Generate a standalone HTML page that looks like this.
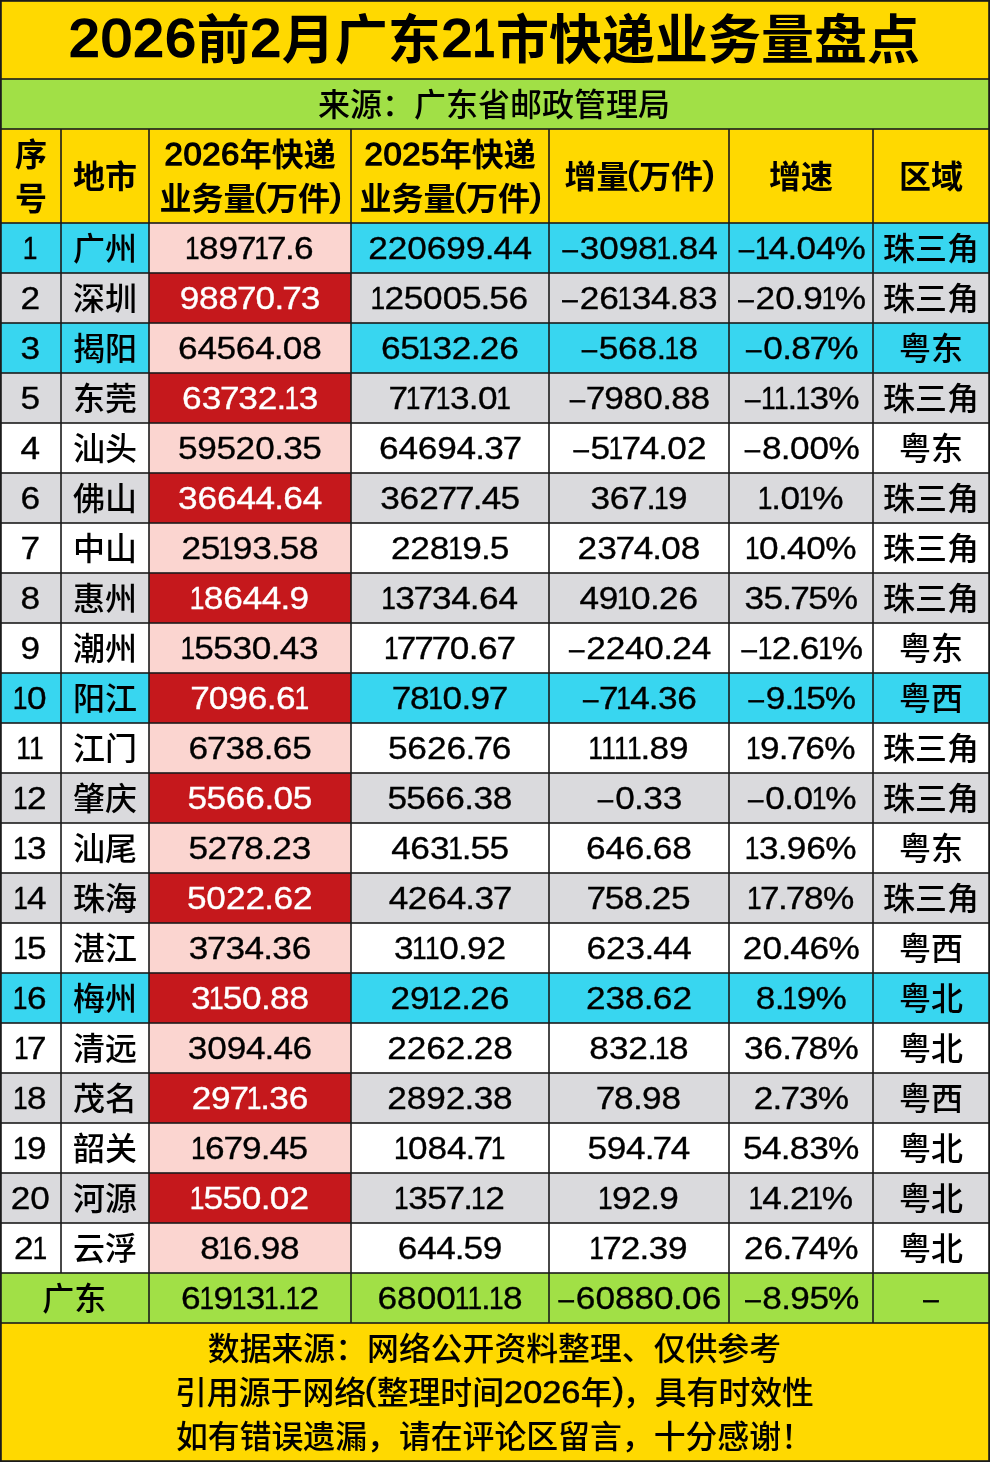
<!DOCTYPE html>
<html lang="zh-CN"><head><meta charset="utf-8"><title>2026前2月广东21市快递业务量盘点</title>
<style>
html,body{margin:0;padding:0;background:#fff}
svg{display:block;font-family:"Liberation Sans", "Noto Sans CJK SC", sans-serif;fill:#000}
text{white-space:pre}
</style></head><body>
<svg width="990" height="1462" viewBox="0 0 990 1462">
<rect x="0" y="0" width="990" height="1462" fill="#1b1b1b"/>
<rect x="1.8" y="1.8" width="986.4" height="76.4" fill="#FFD900"/>
<rect x="1.8" y="79.8" width="986.4" height="48.4" fill="#A1E046"/>
<rect x="1.8" y="129.8" width="58.4" height="92.4" fill="#FFD900"/>
<rect x="61.8" y="129.8" width="86.4" height="92.4" fill="#FFD900"/>
<rect x="149.8" y="129.8" width="200.4" height="92.4" fill="#FFD900"/>
<rect x="351.8" y="129.8" width="196.4" height="92.4" fill="#FFD900"/>
<rect x="549.8" y="129.8" width="178.4" height="92.4" fill="#FFD900"/>
<rect x="729.8" y="129.8" width="142.4" height="92.4" fill="#FFD900"/>
<rect x="873.8" y="129.8" width="114.4" height="92.4" fill="#FFD900"/>
<rect x="1.8" y="223.8" width="58.4" height="48.4" fill="#38D6F0"/>
<rect x="61.8" y="223.8" width="86.4" height="48.4" fill="#38D6F0"/>
<rect x="149.8" y="223.8" width="200.4" height="48.4" fill="#FBD5D0"/>
<rect x="351.8" y="223.8" width="196.4" height="48.4" fill="#38D6F0"/>
<rect x="549.8" y="223.8" width="178.4" height="48.4" fill="#38D6F0"/>
<rect x="729.8" y="223.8" width="142.4" height="48.4" fill="#38D6F0"/>
<rect x="873.8" y="223.8" width="114.4" height="48.4" fill="#38D6F0"/>
<rect x="1.8" y="273.8" width="58.4" height="48.4" fill="#DADADD"/>
<rect x="61.8" y="273.8" width="86.4" height="48.4" fill="#DADADD"/>
<rect x="149.8" y="273.8" width="200.4" height="48.4" fill="#C5181C"/>
<rect x="351.8" y="273.8" width="196.4" height="48.4" fill="#DADADD"/>
<rect x="549.8" y="273.8" width="178.4" height="48.4" fill="#DADADD"/>
<rect x="729.8" y="273.8" width="142.4" height="48.4" fill="#DADADD"/>
<rect x="873.8" y="273.8" width="114.4" height="48.4" fill="#DADADD"/>
<rect x="1.8" y="323.8" width="58.4" height="48.4" fill="#38D6F0"/>
<rect x="61.8" y="323.8" width="86.4" height="48.4" fill="#38D6F0"/>
<rect x="149.8" y="323.8" width="200.4" height="48.4" fill="#FBD5D0"/>
<rect x="351.8" y="323.8" width="196.4" height="48.4" fill="#38D6F0"/>
<rect x="549.8" y="323.8" width="178.4" height="48.4" fill="#38D6F0"/>
<rect x="729.8" y="323.8" width="142.4" height="48.4" fill="#38D6F0"/>
<rect x="873.8" y="323.8" width="114.4" height="48.4" fill="#38D6F0"/>
<rect x="1.8" y="373.8" width="58.4" height="48.4" fill="#DADADD"/>
<rect x="61.8" y="373.8" width="86.4" height="48.4" fill="#DADADD"/>
<rect x="149.8" y="373.8" width="200.4" height="48.4" fill="#C5181C"/>
<rect x="351.8" y="373.8" width="196.4" height="48.4" fill="#DADADD"/>
<rect x="549.8" y="373.8" width="178.4" height="48.4" fill="#DADADD"/>
<rect x="729.8" y="373.8" width="142.4" height="48.4" fill="#DADADD"/>
<rect x="873.8" y="373.8" width="114.4" height="48.4" fill="#DADADD"/>
<rect x="1.8" y="423.8" width="58.4" height="48.4" fill="#FFFFFF"/>
<rect x="61.8" y="423.8" width="86.4" height="48.4" fill="#FFFFFF"/>
<rect x="149.8" y="423.8" width="200.4" height="48.4" fill="#FBD5D0"/>
<rect x="351.8" y="423.8" width="196.4" height="48.4" fill="#FFFFFF"/>
<rect x="549.8" y="423.8" width="178.4" height="48.4" fill="#FFFFFF"/>
<rect x="729.8" y="423.8" width="142.4" height="48.4" fill="#FFFFFF"/>
<rect x="873.8" y="423.8" width="114.4" height="48.4" fill="#FFFFFF"/>
<rect x="1.8" y="473.8" width="58.4" height="48.4" fill="#DADADD"/>
<rect x="61.8" y="473.8" width="86.4" height="48.4" fill="#DADADD"/>
<rect x="149.8" y="473.8" width="200.4" height="48.4" fill="#C5181C"/>
<rect x="351.8" y="473.8" width="196.4" height="48.4" fill="#DADADD"/>
<rect x="549.8" y="473.8" width="178.4" height="48.4" fill="#DADADD"/>
<rect x="729.8" y="473.8" width="142.4" height="48.4" fill="#DADADD"/>
<rect x="873.8" y="473.8" width="114.4" height="48.4" fill="#DADADD"/>
<rect x="1.8" y="523.8" width="58.4" height="48.4" fill="#FFFFFF"/>
<rect x="61.8" y="523.8" width="86.4" height="48.4" fill="#FFFFFF"/>
<rect x="149.8" y="523.8" width="200.4" height="48.4" fill="#FBD5D0"/>
<rect x="351.8" y="523.8" width="196.4" height="48.4" fill="#FFFFFF"/>
<rect x="549.8" y="523.8" width="178.4" height="48.4" fill="#FFFFFF"/>
<rect x="729.8" y="523.8" width="142.4" height="48.4" fill="#FFFFFF"/>
<rect x="873.8" y="523.8" width="114.4" height="48.4" fill="#FFFFFF"/>
<rect x="1.8" y="573.8" width="58.4" height="48.4" fill="#DADADD"/>
<rect x="61.8" y="573.8" width="86.4" height="48.4" fill="#DADADD"/>
<rect x="149.8" y="573.8" width="200.4" height="48.4" fill="#C5181C"/>
<rect x="351.8" y="573.8" width="196.4" height="48.4" fill="#DADADD"/>
<rect x="549.8" y="573.8" width="178.4" height="48.4" fill="#DADADD"/>
<rect x="729.8" y="573.8" width="142.4" height="48.4" fill="#DADADD"/>
<rect x="873.8" y="573.8" width="114.4" height="48.4" fill="#DADADD"/>
<rect x="1.8" y="623.8" width="58.4" height="48.4" fill="#FFFFFF"/>
<rect x="61.8" y="623.8" width="86.4" height="48.4" fill="#FFFFFF"/>
<rect x="149.8" y="623.8" width="200.4" height="48.4" fill="#FBD5D0"/>
<rect x="351.8" y="623.8" width="196.4" height="48.4" fill="#FFFFFF"/>
<rect x="549.8" y="623.8" width="178.4" height="48.4" fill="#FFFFFF"/>
<rect x="729.8" y="623.8" width="142.4" height="48.4" fill="#FFFFFF"/>
<rect x="873.8" y="623.8" width="114.4" height="48.4" fill="#FFFFFF"/>
<rect x="1.8" y="673.8" width="58.4" height="48.4" fill="#38D6F0"/>
<rect x="61.8" y="673.8" width="86.4" height="48.4" fill="#38D6F0"/>
<rect x="149.8" y="673.8" width="200.4" height="48.4" fill="#C5181C"/>
<rect x="351.8" y="673.8" width="196.4" height="48.4" fill="#38D6F0"/>
<rect x="549.8" y="673.8" width="178.4" height="48.4" fill="#38D6F0"/>
<rect x="729.8" y="673.8" width="142.4" height="48.4" fill="#38D6F0"/>
<rect x="873.8" y="673.8" width="114.4" height="48.4" fill="#38D6F0"/>
<rect x="1.8" y="723.8" width="58.4" height="48.4" fill="#FFFFFF"/>
<rect x="61.8" y="723.8" width="86.4" height="48.4" fill="#FFFFFF"/>
<rect x="149.8" y="723.8" width="200.4" height="48.4" fill="#FBD5D0"/>
<rect x="351.8" y="723.8" width="196.4" height="48.4" fill="#FFFFFF"/>
<rect x="549.8" y="723.8" width="178.4" height="48.4" fill="#FFFFFF"/>
<rect x="729.8" y="723.8" width="142.4" height="48.4" fill="#FFFFFF"/>
<rect x="873.8" y="723.8" width="114.4" height="48.4" fill="#FFFFFF"/>
<rect x="1.8" y="773.8" width="58.4" height="48.4" fill="#DADADD"/>
<rect x="61.8" y="773.8" width="86.4" height="48.4" fill="#DADADD"/>
<rect x="149.8" y="773.8" width="200.4" height="48.4" fill="#C5181C"/>
<rect x="351.8" y="773.8" width="196.4" height="48.4" fill="#DADADD"/>
<rect x="549.8" y="773.8" width="178.4" height="48.4" fill="#DADADD"/>
<rect x="729.8" y="773.8" width="142.4" height="48.4" fill="#DADADD"/>
<rect x="873.8" y="773.8" width="114.4" height="48.4" fill="#DADADD"/>
<rect x="1.8" y="823.8" width="58.4" height="48.4" fill="#FFFFFF"/>
<rect x="61.8" y="823.8" width="86.4" height="48.4" fill="#FFFFFF"/>
<rect x="149.8" y="823.8" width="200.4" height="48.4" fill="#FBD5D0"/>
<rect x="351.8" y="823.8" width="196.4" height="48.4" fill="#FFFFFF"/>
<rect x="549.8" y="823.8" width="178.4" height="48.4" fill="#FFFFFF"/>
<rect x="729.8" y="823.8" width="142.4" height="48.4" fill="#FFFFFF"/>
<rect x="873.8" y="823.8" width="114.4" height="48.4" fill="#FFFFFF"/>
<rect x="1.8" y="873.8" width="58.4" height="48.4" fill="#DADADD"/>
<rect x="61.8" y="873.8" width="86.4" height="48.4" fill="#DADADD"/>
<rect x="149.8" y="873.8" width="200.4" height="48.4" fill="#C5181C"/>
<rect x="351.8" y="873.8" width="196.4" height="48.4" fill="#DADADD"/>
<rect x="549.8" y="873.8" width="178.4" height="48.4" fill="#DADADD"/>
<rect x="729.8" y="873.8" width="142.4" height="48.4" fill="#DADADD"/>
<rect x="873.8" y="873.8" width="114.4" height="48.4" fill="#DADADD"/>
<rect x="1.8" y="923.8" width="58.4" height="48.4" fill="#FFFFFF"/>
<rect x="61.8" y="923.8" width="86.4" height="48.4" fill="#FFFFFF"/>
<rect x="149.8" y="923.8" width="200.4" height="48.4" fill="#FBD5D0"/>
<rect x="351.8" y="923.8" width="196.4" height="48.4" fill="#FFFFFF"/>
<rect x="549.8" y="923.8" width="178.4" height="48.4" fill="#FFFFFF"/>
<rect x="729.8" y="923.8" width="142.4" height="48.4" fill="#FFFFFF"/>
<rect x="873.8" y="923.8" width="114.4" height="48.4" fill="#FFFFFF"/>
<rect x="1.8" y="973.8" width="58.4" height="48.4" fill="#38D6F0"/>
<rect x="61.8" y="973.8" width="86.4" height="48.4" fill="#38D6F0"/>
<rect x="149.8" y="973.8" width="200.4" height="48.4" fill="#C5181C"/>
<rect x="351.8" y="973.8" width="196.4" height="48.4" fill="#38D6F0"/>
<rect x="549.8" y="973.8" width="178.4" height="48.4" fill="#38D6F0"/>
<rect x="729.8" y="973.8" width="142.4" height="48.4" fill="#38D6F0"/>
<rect x="873.8" y="973.8" width="114.4" height="48.4" fill="#38D6F0"/>
<rect x="1.8" y="1023.8" width="58.4" height="48.4" fill="#FFFFFF"/>
<rect x="61.8" y="1023.8" width="86.4" height="48.4" fill="#FFFFFF"/>
<rect x="149.8" y="1023.8" width="200.4" height="48.4" fill="#FBD5D0"/>
<rect x="351.8" y="1023.8" width="196.4" height="48.4" fill="#FFFFFF"/>
<rect x="549.8" y="1023.8" width="178.4" height="48.4" fill="#FFFFFF"/>
<rect x="729.8" y="1023.8" width="142.4" height="48.4" fill="#FFFFFF"/>
<rect x="873.8" y="1023.8" width="114.4" height="48.4" fill="#FFFFFF"/>
<rect x="1.8" y="1073.8" width="58.4" height="48.4" fill="#DADADD"/>
<rect x="61.8" y="1073.8" width="86.4" height="48.4" fill="#DADADD"/>
<rect x="149.8" y="1073.8" width="200.4" height="48.4" fill="#C5181C"/>
<rect x="351.8" y="1073.8" width="196.4" height="48.4" fill="#DADADD"/>
<rect x="549.8" y="1073.8" width="178.4" height="48.4" fill="#DADADD"/>
<rect x="729.8" y="1073.8" width="142.4" height="48.4" fill="#DADADD"/>
<rect x="873.8" y="1073.8" width="114.4" height="48.4" fill="#DADADD"/>
<rect x="1.8" y="1123.8" width="58.4" height="48.4" fill="#FFFFFF"/>
<rect x="61.8" y="1123.8" width="86.4" height="48.4" fill="#FFFFFF"/>
<rect x="149.8" y="1123.8" width="200.4" height="48.4" fill="#FBD5D0"/>
<rect x="351.8" y="1123.8" width="196.4" height="48.4" fill="#FFFFFF"/>
<rect x="549.8" y="1123.8" width="178.4" height="48.4" fill="#FFFFFF"/>
<rect x="729.8" y="1123.8" width="142.4" height="48.4" fill="#FFFFFF"/>
<rect x="873.8" y="1123.8" width="114.4" height="48.4" fill="#FFFFFF"/>
<rect x="1.8" y="1173.8" width="58.4" height="48.4" fill="#DADADD"/>
<rect x="61.8" y="1173.8" width="86.4" height="48.4" fill="#DADADD"/>
<rect x="149.8" y="1173.8" width="200.4" height="48.4" fill="#C5181C"/>
<rect x="351.8" y="1173.8" width="196.4" height="48.4" fill="#DADADD"/>
<rect x="549.8" y="1173.8" width="178.4" height="48.4" fill="#DADADD"/>
<rect x="729.8" y="1173.8" width="142.4" height="48.4" fill="#DADADD"/>
<rect x="873.8" y="1173.8" width="114.4" height="48.4" fill="#DADADD"/>
<rect x="1.8" y="1223.8" width="58.4" height="48.4" fill="#FFFFFF"/>
<rect x="61.8" y="1223.8" width="86.4" height="48.4" fill="#FFFFFF"/>
<rect x="149.8" y="1223.8" width="200.4" height="48.4" fill="#FBD5D0"/>
<rect x="351.8" y="1223.8" width="196.4" height="48.4" fill="#FFFFFF"/>
<rect x="549.8" y="1223.8" width="178.4" height="48.4" fill="#FFFFFF"/>
<rect x="729.8" y="1223.8" width="142.4" height="48.4" fill="#FFFFFF"/>
<rect x="873.8" y="1223.8" width="114.4" height="48.4" fill="#FFFFFF"/>
<rect x="1.8" y="1273.8" width="146.4" height="48.4" fill="#A1E046"/>
<rect x="149.8" y="1273.8" width="200.4" height="48.4" fill="#A1E046"/>
<rect x="351.8" y="1273.8" width="196.4" height="48.4" fill="#A1E046"/>
<rect x="549.8" y="1273.8" width="178.4" height="48.4" fill="#A1E046"/>
<rect x="729.8" y="1273.8" width="142.4" height="48.4" fill="#A1E046"/>
<rect x="873.8" y="1273.8" width="114.4" height="48.4" fill="#A1E046"/>
<rect x="1.8" y="1323.8" width="986.4" height="136.4" fill="#FFD900"/>
<text font-size="53" font-weight="700"><tspan x="69.09" y="56.40" font-size="51.14" font-weight="400" stroke="#000" stroke-width="2.3" stroke-linejoin="miter" textLength="30.44" lengthAdjust="spacingAndGlyphs">2</tspan><tspan x="101.21" y="56.40" font-size="51.14" font-weight="400" stroke="#000" stroke-width="2.3" stroke-linejoin="miter" textLength="30.44" lengthAdjust="spacingAndGlyphs">0</tspan><tspan x="133.32" y="56.40" font-size="51.14" font-weight="400" stroke="#000" stroke-width="2.3" stroke-linejoin="miter" textLength="30.44" lengthAdjust="spacingAndGlyphs">2</tspan><tspan x="165.33" y="56.40" font-size="51.14" font-weight="400" stroke="#000" stroke-width="2.3" stroke-linejoin="miter" textLength="30.44" lengthAdjust="spacingAndGlyphs">6</tspan><tspan x="196.71" y="58.60">前</tspan><tspan x="250.56" y="56.40" font-size="51.14" font-weight="400" stroke="#000" stroke-width="2.3" stroke-linejoin="miter" textLength="30.44" lengthAdjust="spacingAndGlyphs">2</tspan><tspan x="281.83" y="58.60">月广东</tspan><tspan x="441.68" y="56.40" font-size="51.14" font-weight="400" stroke="#000" stroke-width="2.3" stroke-linejoin="miter" textLength="30.44" lengthAdjust="spacingAndGlyphs">2</tspan><tspan x="473.08" y="56.40" font-size="51.14" font-weight="400" stroke="#000" stroke-width="2.3" stroke-linejoin="miter" textLength="21.92" lengthAdjust="spacingAndGlyphs">1</tspan><tspan x="496.06" y="58.60">市快递业务量盘点</tspan></text>
<text font-size="32" font-weight="500" x="318.00" y="115.70">来源：广东省邮政管理局</text>
<text font-size="32" font-weight="700" x="15.00" y="165.80">序</text>
<text font-size="32" font-weight="700" x="15.00" y="209.80">号</text>
<text font-size="32" font-weight="700" x="73.00" y="187.80">地市</text>
<text font-size="32" font-weight="700"><tspan x="164.53" y="165.00" font-size="31.04" font-weight="400" stroke="#000" stroke-width="1.3" stroke-linejoin="miter" textLength="18.30" lengthAdjust="spacingAndGlyphs">2</tspan><tspan x="183.41" y="165.00" font-size="31.04" font-weight="400" stroke="#000" stroke-width="1.3" stroke-linejoin="miter" textLength="18.30" lengthAdjust="spacingAndGlyphs">0</tspan><tspan x="202.29" y="165.00" font-size="31.04" font-weight="400" stroke="#000" stroke-width="1.3" stroke-linejoin="miter" textLength="18.30" lengthAdjust="spacingAndGlyphs">2</tspan><tspan x="221.11" y="165.00" font-size="31.04" font-weight="400" stroke="#000" stroke-width="1.3" stroke-linejoin="miter" textLength="18.30" lengthAdjust="spacingAndGlyphs">6</tspan><tspan x="239.76" y="165.80">年快递</tspan></text>
<text font-size="32" font-weight="700"><tspan x="159.50" y="209.80">业务量</tspan><tspan x="254.43" y="206.40" font-size="31.04" font-weight="400" stroke="#000" stroke-width="1.3" stroke-linejoin="miter" textLength="10.96" lengthAdjust="spacingAndGlyphs">(</tspan><tspan x="266.00" y="209.80">万件</tspan><tspan x="330.64" y="206.40" font-size="31.04" font-weight="400" stroke="#000" stroke-width="1.3" stroke-linejoin="miter" textLength="10.96" lengthAdjust="spacingAndGlyphs">)</tspan></text>
<text font-size="32" font-weight="700"><tspan x="364.53" y="165.00" font-size="31.04" font-weight="400" stroke="#000" stroke-width="1.3" stroke-linejoin="miter" textLength="18.30" lengthAdjust="spacingAndGlyphs">2</tspan><tspan x="383.41" y="165.00" font-size="31.04" font-weight="400" stroke="#000" stroke-width="1.3" stroke-linejoin="miter" textLength="18.30" lengthAdjust="spacingAndGlyphs">0</tspan><tspan x="402.29" y="165.00" font-size="31.04" font-weight="400" stroke="#000" stroke-width="1.3" stroke-linejoin="miter" textLength="18.30" lengthAdjust="spacingAndGlyphs">2</tspan><tspan x="421.17" y="165.00" font-size="31.04" font-weight="400" stroke="#000" stroke-width="1.3" stroke-linejoin="miter" textLength="18.30" lengthAdjust="spacingAndGlyphs">5</tspan><tspan x="439.76" y="165.80">年快递</tspan></text>
<text font-size="32" font-weight="700"><tspan x="359.50" y="209.80">业务量</tspan><tspan x="454.43" y="206.40" font-size="31.04" font-weight="400" stroke="#000" stroke-width="1.3" stroke-linejoin="miter" textLength="10.96" lengthAdjust="spacingAndGlyphs">(</tspan><tspan x="466.00" y="209.80">万件</tspan><tspan x="530.64" y="206.40" font-size="31.04" font-weight="400" stroke="#000" stroke-width="1.3" stroke-linejoin="miter" textLength="10.96" lengthAdjust="spacingAndGlyphs">)</tspan></text>
<text font-size="32" font-weight="700"><tspan x="564.50" y="187.80">增量</tspan><tspan x="627.43" y="184.40" font-size="31.04" font-weight="400" stroke="#000" stroke-width="1.3" stroke-linejoin="miter" textLength="10.96" lengthAdjust="spacingAndGlyphs">(</tspan><tspan x="639.00" y="187.80">万件</tspan><tspan x="703.64" y="184.40" font-size="31.04" font-weight="400" stroke="#000" stroke-width="1.3" stroke-linejoin="miter" textLength="10.96" lengthAdjust="spacingAndGlyphs">)</tspan></text>
<text font-size="32" font-weight="700" x="769.00" y="187.80">增速</text>
<text font-size="32" font-weight="700" x="899.00" y="187.80">区域</text>
<text font-weight="500" transform="scale(1.1,1)" font-size="32.00" font-weight="400" stroke="#000" stroke-width="0.35" stroke-linejoin="miter" x="20.59" y="259.30"><tspan textLength="13.35" lengthAdjust="spacingAndGlyphs">1</tspan></text>
<text font-size="32" font-weight="500" x="73.00" y="259.80">广州</text>
<text font-weight="500" transform="scale(1.1,1)" font-size="32.00" font-weight="400" stroke="#000" stroke-width="0.35" stroke-linejoin="miter" x="168.28 180.99 198.73 215.41 231.06 242.84 259.03 267.27" y="259.30 259.30 259.30 259.30 259.30 259.30 259.30 259.30"><tspan textLength="13.35" lengthAdjust="spacingAndGlyphs">1</tspan>897<tspan textLength="13.35" lengthAdjust="spacingAndGlyphs">1</tspan>7.6</text>
<text font-weight="500" transform="scale(1.1,1)" font-size="32.00" font-weight="400" stroke="#000" stroke-width="0.35" stroke-linejoin="miter" x="334.70 352.41 370.19 387.97 405.79 423.45 440.62 448.73 466.01" y="259.30 259.30 259.30 259.30 259.30 259.30 259.30 259.30 259.30">220699.44</text>
<text font-weight="500" transform="scale(1.1,1)" font-size="32.00" font-weight="400" stroke="#000" stroke-width="0.35" stroke-linejoin="miter" x="511.51 527.05 544.70 562.44 580.05 596.76 609.02 617.17 634.81" y="257.25 259.30 259.30 259.30 259.30 259.30 259.30 259.30 259.30"><tspan font-size="24.4" stroke-width="0.8">–</tspan>3098<tspan textLength="13.35" lengthAdjust="spacingAndGlyphs">1</tspan>.84</text>
<text font-weight="500" transform="scale(1.1,1)" font-size="32.00" font-weight="400" stroke="#000" stroke-width="0.35" stroke-linejoin="miter" x="671.87 686.28 698.95 715.82 724.11 741.77 758.58" y="257.25 259.30 259.30 259.30 259.30 259.30 259.30"><tspan font-size="24.4" stroke-width="0.8">–</tspan><tspan textLength="13.35" lengthAdjust="spacingAndGlyphs">1</tspan>4.04%</text>
<text font-size="32" font-weight="500" x="883.00" y="259.80">珠三角</text>
<text font-weight="500" transform="scale(1.1,1)" font-size="32.00" font-weight="400" stroke="#000" stroke-width="0.35" stroke-linejoin="miter" x="18.65" y="309.30">2</text>
<text font-size="32" font-weight="500" x="73.00" y="309.80">深圳</text>
<text font-weight="500" fill="#fff" transform="scale(1.1,1)" font-size="32.00" font-weight="400" stroke="#fff" stroke-width="0.35" stroke-linejoin="miter" x="163.38 180.99 198.68 215.44 232.21 249.46 256.69 273.47" y="309.30 309.30 309.30 309.30 309.30 309.30 309.30 309.30">98870.73</text>
<text font-weight="500" transform="scale(1.1,1)" font-size="32.00" font-weight="400" stroke="#000" stroke-width="0.35" stroke-linejoin="miter" x="336.87 349.65 367.10 384.62 402.45 419.96 436.89 444.86 462.33" y="309.30 309.30 309.30 309.30 309.30 309.30 309.30 309.30 309.30"><tspan textLength="13.35" lengthAdjust="spacingAndGlyphs">1</tspan>25005.56</text>
<text font-weight="500" transform="scale(1.1,1)" font-size="32.00" font-weight="400" stroke="#000" stroke-width="0.35" stroke-linejoin="miter" x="511.48 526.95 544.68 561.47 574.32 591.79 608.67 616.82 634.65" y="307.25 309.30 309.30 309.30 309.30 309.30 309.30 309.30 309.30"><tspan font-size="24.4" stroke-width="0.8">–</tspan>26<tspan textLength="13.35" lengthAdjust="spacingAndGlyphs">1</tspan>34.83</text>
<text font-weight="500" transform="scale(1.1,1)" font-size="32.00" font-weight="400" stroke="#000" stroke-width="0.35" stroke-linejoin="miter" x="671.46 686.94 704.71 721.96 730.17 746.79 758.99" y="307.25 309.30 309.30 309.30 309.30 309.30 309.30"><tspan font-size="24.4" stroke-width="0.8">–</tspan>20.9<tspan textLength="13.35" lengthAdjust="spacingAndGlyphs">1</tspan>%</text>
<text font-size="32" font-weight="500" x="883.00" y="309.80">珠三角</text>
<text font-weight="500" transform="scale(1.1,1)" font-size="32.00" font-weight="400" stroke="#000" stroke-width="0.35" stroke-linejoin="miter" x="18.75" y="359.30">3</text>
<text font-size="32" font-weight="500" x="73.00" y="359.80">揭阳</text>
<text font-weight="500" transform="scale(1.1,1)" font-size="32.00" font-weight="400" stroke="#000" stroke-width="0.35" stroke-linejoin="miter" x="161.89 179.62 196.76 214.23 231.96 248.83 257.13 274.82" y="359.30 359.30 359.30 359.30 359.30 359.30 359.30 359.30">64564.08</text>
<text font-weight="500" transform="scale(1.1,1)" font-size="32.00" font-weight="400" stroke="#000" stroke-width="0.35" stroke-linejoin="miter" x="346.34 363.93 380.33 393.18 410.77 427.96 436.19 453.92" y="359.30 359.30 359.30 359.30 359.30 359.30 359.30 359.30">65<tspan textLength="13.35" lengthAdjust="spacingAndGlyphs">1</tspan>32.26</text>
<text font-weight="500" transform="scale(1.1,1)" font-size="32.00" font-weight="400" stroke="#000" stroke-width="0.35" stroke-linejoin="miter" x="529.19 544.41 561.87 579.64 596.89 604.06 616.76" y="357.25 359.30 359.30 359.30 359.30 359.30 359.30"><tspan font-size="24.4" stroke-width="0.8">–</tspan>568.<tspan textLength="13.35" lengthAdjust="spacingAndGlyphs">1</tspan>8</text>
<text font-weight="500" transform="scale(1.1,1)" font-size="32.00" font-weight="400" stroke="#000" stroke-width="0.35" stroke-linejoin="miter" x="678.31 693.85 711.10 719.25 736.01 752.14" y="357.25 359.30 359.30 359.30 359.30 359.30"><tspan font-size="24.4" stroke-width="0.8">–</tspan>0.87%</text>
<text font-size="32" font-weight="500" x="899.00" y="359.80">粤东</text>
<text font-weight="500" transform="scale(1.1,1)" font-size="32.00" font-weight="400" stroke="#000" stroke-width="0.35" stroke-linejoin="miter" x="18.65" y="409.30">5</text>
<text font-size="32" font-weight="500" x="73.00" y="409.80">东莞</text>
<text font-weight="500" fill="#fff" transform="scale(1.1,1)" font-size="32.00" font-weight="400" stroke="#fff" stroke-width="0.35" stroke-linejoin="miter" x="165.40 183.32 199.90 216.68 234.27 251.47 258.64 271.49" y="409.30 409.30 409.30 409.30 409.30 409.30 409.30 409.30">63732.<tspan textLength="13.35" lengthAdjust="spacingAndGlyphs">1</tspan>3</text>
<text font-weight="500" transform="scale(1.1,1)" font-size="32.00" font-weight="400" stroke="#000" stroke-width="0.35" stroke-linejoin="miter" x="353.15 368.81 380.59 396.24 409.09 426.16 434.45 451.16" y="409.30 409.30 409.30 409.30 409.30 409.30 409.30 409.30">7<tspan textLength="13.35" lengthAdjust="spacingAndGlyphs">1</tspan>7<tspan textLength="13.35" lengthAdjust="spacingAndGlyphs">1</tspan>3.0<tspan textLength="13.35" lengthAdjust="spacingAndGlyphs">1</tspan></text>
<text font-weight="500" transform="scale(1.1,1)" font-size="32.00" font-weight="400" stroke="#000" stroke-width="0.35" stroke-linejoin="miter" x="518.14 532.61 549.29 566.90 584.73 601.98 610.13 627.82" y="407.25 409.30 409.30 409.30 409.30 409.30 409.30 409.30"><tspan font-size="24.4" stroke-width="0.8">–</tspan>7980.88</text>
<text font-weight="500" transform="scale(1.1,1)" font-size="32.00" font-weight="400" stroke="#000" stroke-width="0.35" stroke-linejoin="miter" x="677.51 691.93 703.65 715.91 723.08 735.93 752.94" y="407.25 409.30 409.30 409.30 409.30 409.30 409.30"><tspan font-size="24.4" stroke-width="0.8">–</tspan><tspan textLength="13.35" lengthAdjust="spacingAndGlyphs">1</tspan><tspan textLength="13.35" lengthAdjust="spacingAndGlyphs">1</tspan>.<tspan textLength="13.35" lengthAdjust="spacingAndGlyphs">1</tspan>3%</text>
<text font-size="32" font-weight="500" x="883.00" y="409.80">珠三角</text>
<text font-weight="500" transform="scale(1.1,1)" font-size="32.00" font-weight="400" stroke="#000" stroke-width="0.35" stroke-linejoin="miter" x="18.75" y="459.30">4</text>
<text font-size="32" font-weight="500" x="73.00" y="459.80">汕头</text>
<text font-weight="500" transform="scale(1.1,1)" font-size="32.00" font-weight="400" stroke="#000" stroke-width="0.35" stroke-linejoin="miter" x="161.90 179.32 196.75 214.20 231.98 249.23 257.53 274.86" y="459.30 459.30 459.30 459.30 459.30 459.30 459.30 459.30">59520.35</text>
<text font-weight="500" transform="scale(1.1,1)" font-size="32.00" font-weight="400" stroke="#000" stroke-width="0.35" stroke-linejoin="miter" x="344.55 362.28 379.69 397.52 415.08 431.96 440.26 456.85" y="459.30 459.30 459.30 459.30 459.30 459.30 459.30 459.30">64694.37</text>
<text font-weight="500" transform="scale(1.1,1)" font-size="32.00" font-weight="400" stroke="#000" stroke-width="0.35" stroke-linejoin="miter" x="521.54 536.75 553.15 564.93 581.52 598.40 606.69 624.46" y="457.25 459.30 459.30 459.30 459.30 459.30 459.30 459.30"><tspan font-size="24.4" stroke-width="0.8">–</tspan>5<tspan textLength="13.35" lengthAdjust="spacingAndGlyphs">1</tspan>74.02</text>
<text font-weight="500" transform="scale(1.1,1)" font-size="32.00" font-weight="400" stroke="#000" stroke-width="0.35" stroke-linejoin="miter" x="677.25 692.65 709.89 718.18 736.01 753.20" y="457.25 459.30 459.30 459.30 459.30 459.30"><tspan font-size="24.4" stroke-width="0.8">–</tspan>8.00%</text>
<text font-size="32" font-weight="500" x="899.00" y="459.80">粤东</text>
<text font-weight="500" transform="scale(1.1,1)" font-size="32.00" font-weight="400" stroke="#000" stroke-width="0.35" stroke-linejoin="miter" x="18.59" y="509.30">6</text>
<text font-size="32" font-weight="500" x="73.00" y="509.80">佛山</text>
<text font-weight="500" fill="#fff" transform="scale(1.1,1)" font-size="32.00" font-weight="400" stroke="#fff" stroke-width="0.35" stroke-linejoin="miter" x="161.91 179.51 197.37 215.10 232.38 249.26 257.50 275.23" y="509.30 509.30 509.30 509.30 509.30 509.30 509.30 509.30">36644.64</text>
<text font-weight="500" transform="scale(1.1,1)" font-size="32.00" font-weight="400" stroke="#000" stroke-width="0.35" stroke-linejoin="miter" x="345.70 363.30 381.15 397.87 413.58 429.77 437.88 455.02" y="509.30 509.30 509.30 509.30 509.30 509.30 509.30 509.30">36277.45</text>
<text font-weight="500" transform="scale(1.1,1)" font-size="32.00" font-weight="400" stroke="#000" stroke-width="0.35" stroke-linejoin="miter" x="536.78 554.38 571.23 587.42 594.59 607.34" y="509.30 509.30 509.30 509.30 509.30 509.30">367.<tspan textLength="13.35" lengthAdjust="spacingAndGlyphs">1</tspan>9</text>
<text font-weight="500" transform="scale(1.1,1)" font-size="32.00" font-weight="400" stroke="#000" stroke-width="0.35" stroke-linejoin="miter" x="688.97 701.23 709.53 726.24 738.44" y="509.30 509.30 509.30 509.30 509.30"><tspan textLength="13.35" lengthAdjust="spacingAndGlyphs">1</tspan>.0<tspan textLength="13.35" lengthAdjust="spacingAndGlyphs">1</tspan>%</text>
<text font-size="32" font-weight="500" x="883.00" y="509.80">珠三角</text>
<text font-weight="500" transform="scale(1.1,1)" font-size="32.00" font-weight="400" stroke="#000" stroke-width="0.35" stroke-linejoin="miter" x="18.65" y="559.30">7</text>
<text font-size="32" font-weight="500" x="73.00" y="559.80">中山</text>
<text font-weight="500" transform="scale(1.1,1)" font-size="32.00" font-weight="400" stroke="#000" stroke-width="0.35" stroke-linejoin="miter" x="164.97 182.42 198.81 211.57 229.32 246.39 254.36 271.74" y="559.30 559.30 559.30 559.30 559.30 559.30 559.30 559.30">25<tspan textLength="13.35" lengthAdjust="spacingAndGlyphs">1</tspan>93.58</text>
<text font-weight="500" transform="scale(1.1,1)" font-size="32.00" font-weight="400" stroke="#000" stroke-width="0.35" stroke-linejoin="miter" x="355.35 373.07 390.71 407.41 420.17 437.33 445.30" y="559.30 559.30 559.30 559.30 559.30 559.30 559.30">228<tspan textLength="13.35" lengthAdjust="spacingAndGlyphs">1</tspan>9.5</text>
<text font-weight="500" transform="scale(1.1,1)" font-size="32.00" font-weight="400" stroke="#000" stroke-width="0.35" stroke-linejoin="miter" x="525.07 542.86 559.45 576.04 592.91 601.21 618.90" y="559.30 559.30 559.30 559.30 559.30 559.30 559.30">2374.08</text>
<text font-weight="500" transform="scale(1.1,1)" font-size="32.00" font-weight="400" stroke="#000" stroke-width="0.35" stroke-linejoin="miter" x="677.28 690.12 707.37 715.48 732.94 750.13" y="559.30 559.30 559.30 559.30 559.30 559.30"><tspan textLength="13.35" lengthAdjust="spacingAndGlyphs">1</tspan>0.40%</text>
<text font-size="32" font-weight="500" x="883.00" y="559.80">珠三角</text>
<text font-weight="500" transform="scale(1.1,1)" font-size="32.00" font-weight="400" stroke="#000" stroke-width="0.35" stroke-linejoin="miter" x="18.59" y="609.30">8</text>
<text font-size="32" font-weight="500" x="73.00" y="609.80">惠州</text>
<text font-weight="500" fill="#fff" transform="scale(1.1,1)" font-size="32.00" font-weight="400" stroke="#fff" stroke-width="0.35" stroke-linejoin="miter" x="172.57 185.28 203.05 220.79 238.07 254.94 263.15" y="609.30 609.30 609.30 609.30 609.30 609.30 609.30"><tspan textLength="13.35" lengthAdjust="spacingAndGlyphs">1</tspan>8644.9</text>
<text font-weight="500" transform="scale(1.1,1)" font-size="32.00" font-weight="400" stroke="#000" stroke-width="0.35" stroke-linejoin="miter" x="346.55 359.40 375.99 392.77 410.24 427.12 435.36 453.09" y="609.30 609.30 609.30 609.30 609.30 609.30 609.30 609.30"><tspan textLength="13.35" lengthAdjust="spacingAndGlyphs">1</tspan>3734.64</text>
<text font-weight="500" transform="scale(1.1,1)" font-size="32.00" font-weight="400" stroke="#000" stroke-width="0.35" stroke-linejoin="miter" x="526.86 544.23 560.86 573.70 590.95 599.18 616.91" y="609.30 609.30 609.30 609.30 609.30 609.30 609.30">49<tspan textLength="13.35" lengthAdjust="spacingAndGlyphs">1</tspan>0.26</text>
<text font-weight="500" transform="scale(1.1,1)" font-size="32.00" font-weight="400" stroke="#000" stroke-width="0.35" stroke-linejoin="miter" x="676.87 694.19 711.13 718.35 734.81 751.67" y="609.30 609.30 609.30 609.30 609.30 609.30">35.75%</text>
<text font-size="32" font-weight="500" x="883.00" y="609.80">珠三角</text>
<text font-weight="500" transform="scale(1.1,1)" font-size="32.00" font-weight="400" stroke="#000" stroke-width="0.35" stroke-linejoin="miter" x="18.65" y="659.30">9</text>
<text font-size="32" font-weight="500" x="73.00" y="659.80">潮州</text>
<text font-weight="500" transform="scale(1.1,1)" font-size="32.00" font-weight="400" stroke="#000" stroke-width="0.35" stroke-linejoin="miter" x="164.05 176.57 193.77 211.29 228.94 246.19 254.30 271.77" y="659.30 659.30 659.30 659.30 659.30 659.30 659.30 659.30"><tspan textLength="13.35" lengthAdjust="spacingAndGlyphs">1</tspan>5530.43</text>
<text font-weight="500" transform="scale(1.1,1)" font-size="32.00" font-weight="400" stroke="#000" stroke-width="0.35" stroke-linejoin="miter" x="349.01 360.79 376.50 392.21 408.98 426.23 434.47 451.32" y="659.30 659.30 659.30 659.30 659.30 659.30 659.30 659.30"><tspan textLength="13.35" lengthAdjust="spacingAndGlyphs">1</tspan>7770.67</text>
<text font-weight="500" transform="scale(1.1,1)" font-size="32.00" font-weight="400" stroke="#000" stroke-width="0.35" stroke-linejoin="miter" x="517.50 532.97 550.69 568.28 585.74 602.99 611.23 628.82" y="657.25 659.30 659.30 659.30 659.30 659.30 659.30 659.30"><tspan font-size="24.4" stroke-width="0.8">–</tspan>2240.24</text>
<text font-weight="500" transform="scale(1.1,1)" font-size="32.00" font-weight="400" stroke="#000" stroke-width="0.35" stroke-linejoin="miter" x="674.42 688.83 701.61 718.81 727.05 743.84 756.04" y="657.25 659.30 659.30 659.30 659.30 659.30 659.30"><tspan font-size="24.4" stroke-width="0.8">–</tspan><tspan textLength="13.35" lengthAdjust="spacingAndGlyphs">1</tspan>2.6<tspan textLength="13.35" lengthAdjust="spacingAndGlyphs">1</tspan>%</text>
<text font-size="32" font-weight="500" x="899.00" y="659.80">粤东</text>
<text font-weight="500" transform="scale(1.1,1)" font-size="32.00" font-weight="400" stroke="#000" stroke-width="0.35" stroke-linejoin="miter" x="11.67 24.51" y="709.30 709.30"><tspan textLength="13.35" lengthAdjust="spacingAndGlyphs">1</tspan>0</text>
<text font-size="32" font-weight="500" x="73.00" y="709.80">阳江</text>
<text font-weight="500" fill="#fff" transform="scale(1.1,1)" font-size="32.00" font-weight="400" stroke="#fff" stroke-width="0.35" stroke-linejoin="miter" x="173.05 189.82 207.57 225.27 242.59 250.84 267.63" y="709.30 709.30 709.30 709.30 709.30 709.30 709.30">7096.6<tspan textLength="13.35" lengthAdjust="spacingAndGlyphs">1</tspan></text>
<text font-weight="500" transform="scale(1.1,1)" font-size="32.00" font-weight="400" stroke="#000" stroke-width="0.35" stroke-linejoin="miter" x="356.03 372.67 389.37 402.22 419.47 427.67 444.35" y="709.30 709.30 709.30 709.30 709.30 709.30 709.30">78<tspan textLength="13.35" lengthAdjust="spacingAndGlyphs">1</tspan>0.97</text>
<text font-weight="500" transform="scale(1.1,1)" font-size="32.00" font-weight="400" stroke="#000" stroke-width="0.35" stroke-linejoin="miter" x="530.15 544.62 560.28 572.94 589.82 598.12 615.72" y="707.25 709.30 709.30 709.30 709.30 709.30 709.30"><tspan font-size="24.4" stroke-width="0.8">–</tspan>7<tspan textLength="13.35" lengthAdjust="spacingAndGlyphs">1</tspan>4.36</text>
<text font-weight="500" transform="scale(1.1,1)" font-size="32.00" font-weight="400" stroke="#000" stroke-width="0.35" stroke-linejoin="miter" x="680.64 696.09 713.25 720.42 732.94 749.81" y="707.25 709.30 709.30 709.30 709.30 709.30"><tspan font-size="24.4" stroke-width="0.8">–</tspan>9.<tspan textLength="13.35" lengthAdjust="spacingAndGlyphs">1</tspan>5%</text>
<text font-size="32" font-weight="500" x="899.00" y="709.80">粤西</text>
<text font-weight="500" transform="scale(1.1,1)" font-size="32.00" font-weight="400" stroke="#000" stroke-width="0.35" stroke-linejoin="miter" x="14.72 26.45" y="759.30 759.30"><tspan textLength="13.35" lengthAdjust="spacingAndGlyphs">1</tspan><tspan textLength="13.35" lengthAdjust="spacingAndGlyphs">1</tspan></text>
<text font-size="32" font-weight="500" x="73.00" y="759.80">江门</text>
<text font-weight="500" transform="scale(1.1,1)" font-size="32.00" font-weight="400" stroke="#000" stroke-width="0.35" stroke-linejoin="miter" x="171.40 188.25 205.03 222.55 239.79 248.03 265.62" y="759.30 759.30 759.30 759.30 759.30 759.30 759.30">6738.65</text>
<text font-weight="500" transform="scale(1.1,1)" font-size="32.00" font-weight="400" stroke="#000" stroke-width="0.35" stroke-linejoin="miter" x="352.83 370.30 388.15 405.88 423.21 430.43 447.16" y="759.30 759.30 759.30 759.30 759.30 759.30 759.30">5626.76</text>
<text font-weight="500" transform="scale(1.1,1)" font-size="32.00" font-weight="400" stroke="#000" stroke-width="0.35" stroke-linejoin="miter" x="534.84 546.56 558.28 570.01 582.27 590.42 608.16" y="759.30 759.30 759.30 759.30 759.30 759.30 759.30"><tspan textLength="13.35" lengthAdjust="spacingAndGlyphs">1</tspan><tspan textLength="13.35" lengthAdjust="spacingAndGlyphs">1</tspan><tspan textLength="13.35" lengthAdjust="spacingAndGlyphs">1</tspan><tspan textLength="13.35" lengthAdjust="spacingAndGlyphs">1</tspan>.89</text>
<text font-weight="500" transform="scale(1.1,1)" font-size="32.00" font-weight="400" stroke="#000" stroke-width="0.35" stroke-linejoin="miter" x="678.14 690.89 708.06 715.29 732.01 749.27" y="759.30 759.30 759.30 759.30 759.30 759.30"><tspan textLength="13.35" lengthAdjust="spacingAndGlyphs">1</tspan>9.76%</text>
<text font-size="32" font-weight="500" x="883.00" y="759.80">珠三角</text>
<text font-weight="500" transform="scale(1.1,1)" font-size="32.00" font-weight="400" stroke="#000" stroke-width="0.35" stroke-linejoin="miter" x="11.73 24.51" y="809.30 809.30"><tspan textLength="13.35" lengthAdjust="spacingAndGlyphs">1</tspan>2</text>
<text font-size="32" font-weight="500" x="73.00" y="809.80">肇庆</text>
<text font-weight="500" fill="#fff" transform="scale(1.1,1)" font-size="32.00" font-weight="400" stroke="#fff" stroke-width="0.35" stroke-linejoin="miter" x="170.55 187.74 205.21 223.07 240.40 248.69 266.20" y="809.30 809.30 809.30 809.30 809.30 809.30 809.30">5566.05</text>
<text font-weight="500" transform="scale(1.1,1)" font-size="32.00" font-weight="400" stroke="#000" stroke-width="0.35" stroke-linejoin="miter" x="352.21 369.40 386.87 404.73 422.06 430.36 447.87" y="809.30 809.30 809.30 809.30 809.30 809.30 809.30">5566.38</text>
<text font-weight="500" transform="scale(1.1,1)" font-size="32.00" font-weight="400" stroke="#000" stroke-width="0.35" stroke-linejoin="miter" x="543.70 559.23 576.48 584.78 602.44" y="807.25 809.30 809.30 809.30 809.30"><tspan font-size="24.4" stroke-width="0.8">–</tspan>0.33</text>
<text font-weight="500" transform="scale(1.1,1)" font-size="32.00" font-weight="400" stroke="#000" stroke-width="0.35" stroke-linejoin="miter" x="680.23 695.77 713.02 721.31 738.02 750.22" y="807.25 809.30 809.30 809.30 809.30 809.30"><tspan font-size="24.4" stroke-width="0.8">–</tspan>0.0<tspan textLength="13.35" lengthAdjust="spacingAndGlyphs">1</tspan>%</text>
<text font-size="32" font-weight="500" x="883.00" y="809.80">珠三角</text>
<text font-weight="500" transform="scale(1.1,1)" font-size="32.00" font-weight="400" stroke="#000" stroke-width="0.35" stroke-linejoin="miter" x="11.76 24.61" y="859.30 859.30"><tspan textLength="13.35" lengthAdjust="spacingAndGlyphs">1</tspan>3</text>
<text font-size="32" font-weight="500" x="73.00" y="859.80">汕尾</text>
<text font-weight="500" transform="scale(1.1,1)" font-size="32.00" font-weight="400" stroke="#000" stroke-width="0.35" stroke-linejoin="miter" x="171.28 188.73 205.45 222.08 239.32 247.55 265.34" y="859.30 859.30 859.30 859.30 859.30 859.30 859.30">5278.23</text>
<text font-weight="500" transform="scale(1.1,1)" font-size="32.00" font-weight="400" stroke="#000" stroke-width="0.35" stroke-linejoin="miter" x="355.62 373.03 390.95 407.48 419.74 427.71 444.91" y="859.30 859.30 859.30 859.30 859.30 859.30 859.30">463<tspan textLength="13.35" lengthAdjust="spacingAndGlyphs">1</tspan>.55</text>
<text font-weight="500" transform="scale(1.1,1)" font-size="32.00" font-weight="400" stroke="#000" stroke-width="0.35" stroke-linejoin="miter" x="532.75 550.48 567.89 585.22 593.46 611.24" y="859.30 859.30 859.30 859.30 859.30 859.30">646.68</text>
<text font-weight="500" transform="scale(1.1,1)" font-size="32.00" font-weight="400" stroke="#000" stroke-width="0.35" stroke-linejoin="miter" x="677.16 690.01 707.08 715.29 732.98 750.25" y="859.30 859.30 859.30 859.30 859.30 859.30"><tspan textLength="13.35" lengthAdjust="spacingAndGlyphs">1</tspan>3.96%</text>
<text font-size="32" font-weight="500" x="899.00" y="859.80">粤东</text>
<text font-weight="500" transform="scale(1.1,1)" font-size="32.00" font-weight="400" stroke="#000" stroke-width="0.35" stroke-linejoin="miter" x="11.95 24.61" y="909.30 909.30"><tspan textLength="13.35" lengthAdjust="spacingAndGlyphs">1</tspan>4</text>
<text font-size="32" font-weight="500" x="73.00" y="909.80">珠海</text>
<text font-weight="500" fill="#fff" transform="scale(1.1,1)" font-size="32.00" font-weight="400" stroke="#fff" stroke-width="0.35" stroke-linejoin="miter" x="170.10 187.61 205.39 223.10 240.30 248.54 266.39" y="909.30 909.30 909.30 909.30 909.30 909.30 909.30">5022.62</text>
<text font-weight="500" transform="scale(1.1,1)" font-size="32.00" font-weight="400" stroke="#000" stroke-width="0.35" stroke-linejoin="miter" x="353.32 370.73 388.45 406.18 423.06 431.36 447.95" y="909.30 909.30 909.30 909.30 909.30 909.30 909.30">4264.37</text>
<text font-weight="500" transform="scale(1.1,1)" font-size="32.00" font-weight="400" stroke="#000" stroke-width="0.35" stroke-linejoin="miter" x="533.26 549.71 567.09 584.33 592.57 610.02" y="909.30 909.30 909.30 909.30 909.30 909.30">758.25</text>
<text font-weight="500" transform="scale(1.1,1)" font-size="32.00" font-weight="400" stroke="#000" stroke-width="0.35" stroke-linejoin="miter" x="679.20 690.98 707.17 714.40 731.03 748.21" y="909.30 909.30 909.30 909.30 909.30 909.30"><tspan textLength="13.35" lengthAdjust="spacingAndGlyphs">1</tspan>7.78%</text>
<text font-size="32" font-weight="500" x="883.00" y="909.80">珠三角</text>
<text font-weight="500" transform="scale(1.1,1)" font-size="32.00" font-weight="400" stroke="#000" stroke-width="0.35" stroke-linejoin="miter" x="11.99 24.51" y="959.30 959.30"><tspan textLength="13.35" lengthAdjust="spacingAndGlyphs">1</tspan>5</text>
<text font-size="32" font-weight="500" x="73.00" y="959.80">湛江</text>
<text font-weight="500" transform="scale(1.1,1)" font-size="32.00" font-weight="400" stroke="#000" stroke-width="0.35" stroke-linejoin="miter" x="171.53 188.12 204.90 222.37 239.25 247.55 265.15" y="959.30 959.30 959.30 959.30 959.30 959.30 959.30">3734.36</text>
<text font-weight="500" transform="scale(1.1,1)" font-size="32.00" font-weight="400" stroke="#000" stroke-width="0.35" stroke-linejoin="miter" x="358.11 374.64 386.36 399.21 416.46 424.66 442.35" y="959.30 959.30 959.30 959.30 959.30 959.30 959.30">3<tspan textLength="13.35" lengthAdjust="spacingAndGlyphs">1</tspan><tspan textLength="13.35" lengthAdjust="spacingAndGlyphs">1</tspan>0.92</text>
<text font-weight="500" transform="scale(1.1,1)" font-size="32.00" font-weight="400" stroke="#000" stroke-width="0.35" stroke-linejoin="miter" x="533.13 550.98 568.76 585.83 593.94 611.22" y="959.30 959.30 959.30 959.30 959.30 959.30">623.44</text>
<text font-weight="500" transform="scale(1.1,1)" font-size="32.00" font-weight="400" stroke="#000" stroke-width="0.35" stroke-linejoin="miter" x="675.33 693.10 710.35 718.47 735.88 753.14" y="959.30 959.30 959.30 959.30 959.30 959.30">20.46%</text>
<text font-size="32" font-weight="500" x="899.00" y="959.80">粤西</text>
<text font-weight="500" transform="scale(1.1,1)" font-size="32.00" font-weight="400" stroke="#000" stroke-width="0.35" stroke-linejoin="miter" x="11.65 24.45" y="1009.30 1009.30"><tspan textLength="13.35" lengthAdjust="spacingAndGlyphs">1</tspan>6</text>
<text font-size="32" font-weight="500" x="73.00" y="1009.80">梅州</text>
<text font-weight="500" fill="#fff" transform="scale(1.1,1)" font-size="32.00" font-weight="400" stroke="#fff" stroke-width="0.35" stroke-linejoin="miter" x="173.56 190.09 202.61 220.12 237.37 245.53 263.21" y="1009.30 1009.30 1009.30 1009.30 1009.30 1009.30 1009.30">3<tspan textLength="13.35" lengthAdjust="spacingAndGlyphs">1</tspan>50.88</text>
<text font-weight="500" transform="scale(1.1,1)" font-size="32.00" font-weight="400" stroke="#000" stroke-width="0.35" stroke-linejoin="miter" x="355.00 372.69 389.32 402.10 419.29 427.53 445.25" y="1009.30 1009.30 1009.30 1009.30 1009.30 1009.30 1009.30">29<tspan textLength="13.35" lengthAdjust="spacingAndGlyphs">1</tspan>2.26</text>
<text font-weight="500" transform="scale(1.1,1)" font-size="32.00" font-weight="400" stroke="#000" stroke-width="0.35" stroke-linejoin="miter" x="532.70 550.48 567.99 585.23 593.48 611.33" y="1009.30 1009.30 1009.30 1009.30 1009.30 1009.30">238.62</text>
<text font-weight="500" transform="scale(1.1,1)" font-size="32.00" font-weight="400" stroke="#000" stroke-width="0.35" stroke-linejoin="miter" x="687.06 704.30 711.48 724.23 741.33" y="1009.30 1009.30 1009.30 1009.30 1009.30">8.<tspan textLength="13.35" lengthAdjust="spacingAndGlyphs">1</tspan>9%</text>
<text font-size="32" font-weight="500" x="899.00" y="1009.80">粤北</text>
<text font-weight="500" transform="scale(1.1,1)" font-size="32.00" font-weight="400" stroke="#000" stroke-width="0.35" stroke-linejoin="miter" x="12.73 24.51" y="1059.30 1059.30"><tspan textLength="13.35" lengthAdjust="spacingAndGlyphs">1</tspan>7</text>
<text font-size="32" font-weight="500" x="73.00" y="1059.80">清远</text>
<text font-weight="500" transform="scale(1.1,1)" font-size="32.00" font-weight="400" stroke="#000" stroke-width="0.35" stroke-linejoin="miter" x="170.66 188.31 206.06 223.62 240.50 248.61 266.02" y="1059.30 1059.30 1059.30 1059.30 1059.30 1059.30 1059.30">3094.46</text>
<text font-weight="500" transform="scale(1.1,1)" font-size="32.00" font-weight="400" stroke="#000" stroke-width="0.35" stroke-linejoin="miter" x="351.99 369.71 387.43 405.29 422.48 430.71 448.35" y="1059.30 1059.30 1059.30 1059.30 1059.30 1059.30 1059.30">2262.28</text>
<text font-weight="500" transform="scale(1.1,1)" font-size="32.00" font-weight="400" stroke="#000" stroke-width="0.35" stroke-linejoin="miter" x="535.70 553.53 571.13 588.32 595.49 608.20" y="1059.30 1059.30 1059.30 1059.30 1059.30 1059.30">832.<tspan textLength="13.35" lengthAdjust="spacingAndGlyphs">1</tspan>8</text>
<text font-weight="500" transform="scale(1.1,1)" font-size="32.00" font-weight="400" stroke="#000" stroke-width="0.35" stroke-linejoin="miter" x="676.28 693.88 711.21 718.44 735.08 752.25" y="1059.30 1059.30 1059.30 1059.30 1059.30 1059.30">36.78%</text>
<text font-size="32" font-weight="500" x="899.00" y="1059.80">粤北</text>
<text font-weight="500" transform="scale(1.1,1)" font-size="32.00" font-weight="400" stroke="#000" stroke-width="0.35" stroke-linejoin="miter" x="11.74 24.45" y="1109.30 1109.30"><tspan textLength="13.35" lengthAdjust="spacingAndGlyphs">1</tspan>8</text>
<text font-size="32" font-weight="500" x="73.00" y="1109.80">茂名</text>
<text font-weight="500" fill="#fff" transform="scale(1.1,1)" font-size="32.00" font-weight="400" stroke="#fff" stroke-width="0.35" stroke-linejoin="miter" x="174.22 191.90 208.59 224.24 236.50 244.80 262.40" y="1109.30 1109.30 1109.30 1109.30 1109.30 1109.30 1109.30">297<tspan textLength="13.35" lengthAdjust="spacingAndGlyphs">1</tspan>.36</text>
<text font-weight="500" transform="scale(1.1,1)" font-size="32.00" font-weight="400" stroke="#000" stroke-width="0.35" stroke-linejoin="miter" x="352.14 369.77 387.51 405.20 422.39 430.69 448.20" y="1109.30 1109.30 1109.30 1109.30 1109.30 1109.30 1109.30">2892.38</text>
<text font-weight="500" transform="scale(1.1,1)" font-size="32.00" font-weight="400" stroke="#000" stroke-width="0.35" stroke-linejoin="miter" x="541.64 558.28 575.52 583.72 601.33" y="1109.30 1109.30 1109.30 1109.30 1109.30">78.98</text>
<text font-weight="500" transform="scale(1.1,1)" font-size="32.00" font-weight="400" stroke="#000" stroke-width="0.35" stroke-linejoin="miter" x="685.13 702.33 709.55 726.33 743.34" y="1109.30 1109.30 1109.30 1109.30 1109.30">2.73%</text>
<text font-size="32" font-weight="500" x="899.00" y="1109.80">粤西</text>
<text font-weight="500" transform="scale(1.1,1)" font-size="32.00" font-weight="400" stroke="#000" stroke-width="0.35" stroke-linejoin="miter" x="11.76 24.51" y="1159.30 1159.30"><tspan textLength="13.35" lengthAdjust="spacingAndGlyphs">1</tspan>9</text>
<text font-size="32" font-weight="500" x="73.00" y="1159.80">韶关</text>
<text font-weight="500" transform="scale(1.1,1)" font-size="32.00" font-weight="400" stroke="#000" stroke-width="0.35" stroke-linejoin="miter" x="173.61 186.40 203.25 219.93 237.10 245.21 262.35" y="1159.30 1159.30 1159.30 1159.30 1159.30 1159.30 1159.30"><tspan textLength="13.35" lengthAdjust="spacingAndGlyphs">1</tspan>679.45</text>
<text font-weight="500" transform="scale(1.1,1)" font-size="32.00" font-weight="400" stroke="#000" stroke-width="0.35" stroke-linejoin="miter" x="358.16 371.00 388.70 406.34 423.22 430.45 446.10" y="1159.30 1159.30 1159.30 1159.30 1159.30 1159.30 1159.30"><tspan textLength="13.35" lengthAdjust="spacingAndGlyphs">1</tspan>084.7<tspan textLength="13.35" lengthAdjust="spacingAndGlyphs">1</tspan></text>
<text font-weight="500" transform="scale(1.1,1)" font-size="32.00" font-weight="400" stroke="#000" stroke-width="0.35" stroke-linejoin="miter" x="534.19 551.62 569.19 586.06 593.29 609.88" y="1159.30 1159.30 1159.30 1159.30 1159.30 1159.30">594.74</text>
<text font-weight="500" transform="scale(1.1,1)" font-size="32.00" font-weight="400" stroke="#000" stroke-width="0.35" stroke-linejoin="miter" x="675.50 692.84 709.71 717.87 735.70 752.71" y="1159.30 1159.30 1159.30 1159.30 1159.30 1159.30">54.83%</text>
<text font-size="32" font-weight="500" x="899.00" y="1159.80">粤北</text>
<text font-weight="500" transform="scale(1.1,1)" font-size="32.00" font-weight="400" stroke="#000" stroke-width="0.35" stroke-linejoin="miter" x="9.73 27.51" y="1209.30 1209.30">20</text>
<text font-size="32" font-weight="500" x="73.00" y="1209.80">河源</text>
<text font-weight="500" fill="#fff" transform="scale(1.1,1)" font-size="32.00" font-weight="400" stroke="#fff" stroke-width="0.35" stroke-linejoin="miter" x="172.57 185.10 202.29 219.80 237.05 245.34 263.12" y="1209.30 1209.30 1209.30 1209.30 1209.30 1209.30 1209.30"><tspan textLength="13.35" lengthAdjust="spacingAndGlyphs">1</tspan>550.02</text>
<text font-weight="500" transform="scale(1.1,1)" font-size="32.00" font-weight="400" stroke="#000" stroke-width="0.35" stroke-linejoin="miter" x="358.28 371.13 388.46 404.91 421.10 428.27 441.05" y="1209.30 1209.30 1209.30 1209.30 1209.30 1209.30 1209.30"><tspan textLength="13.35" lengthAdjust="spacingAndGlyphs">1</tspan>357.<tspan textLength="13.35" lengthAdjust="spacingAndGlyphs">1</tspan>2</text>
<text font-weight="500" transform="scale(1.1,1)" font-size="32.00" font-weight="400" stroke="#000" stroke-width="0.35" stroke-linejoin="miter" x="543.58 556.33 574.02 591.21 599.42" y="1209.30 1209.30 1209.30 1209.30 1209.30"><tspan textLength="13.35" lengthAdjust="spacingAndGlyphs">1</tspan>92.9</text>
<text font-weight="500" transform="scale(1.1,1)" font-size="32.00" font-weight="400" stroke="#000" stroke-width="0.35" stroke-linejoin="miter" x="680.39 693.05 709.93 718.17 734.82 747.02" y="1209.30 1209.30 1209.30 1209.30 1209.30 1209.30"><tspan textLength="13.35" lengthAdjust="spacingAndGlyphs">1</tspan>4.2<tspan textLength="13.35" lengthAdjust="spacingAndGlyphs">1</tspan>%</text>
<text font-size="32" font-weight="500" x="899.00" y="1209.80">粤北</text>
<text font-weight="500" transform="scale(1.1,1)" font-size="32.00" font-weight="400" stroke="#000" stroke-width="0.35" stroke-linejoin="miter" x="12.79 29.44" y="1259.30 1259.30">2<tspan textLength="13.35" lengthAdjust="spacingAndGlyphs">1</tspan></text>
<text font-size="32" font-weight="500" x="73.00" y="1259.80">云浮</text>
<text font-weight="500" transform="scale(1.1,1)" font-size="32.00" font-weight="400" stroke="#000" stroke-width="0.35" stroke-linejoin="miter" x="181.99 198.70 211.49 228.82 237.02 254.63" y="1259.30 1259.30 1259.30 1259.30 1259.30 1259.30">8<tspan textLength="13.35" lengthAdjust="spacingAndGlyphs">1</tspan>6.98</text>
<text font-weight="500" transform="scale(1.1,1)" font-size="32.00" font-weight="400" stroke="#000" stroke-width="0.35" stroke-linejoin="miter" x="361.57 379.30 396.58 413.46 421.43 438.86" y="1259.30 1259.30 1259.30 1259.30 1259.30 1259.30">644.59</text>
<text font-weight="500" transform="scale(1.1,1)" font-size="32.00" font-weight="400" stroke="#000" stroke-width="0.35" stroke-linejoin="miter" x="535.72 547.50 564.22 581.41 589.71 607.27" y="1259.30 1259.30 1259.30 1259.30 1259.30 1259.30"><tspan textLength="13.35" lengthAdjust="spacingAndGlyphs">1</tspan>72.39</text>
<text font-weight="500" transform="scale(1.1,1)" font-size="32.00" font-weight="400" stroke="#000" stroke-width="0.35" stroke-linejoin="miter" x="676.39 694.12 711.45 718.67 735.27 752.08" y="1259.30 1259.30 1259.30 1259.30 1259.30 1259.30">26.74%</text>
<text font-size="32" font-weight="500" x="899.00" y="1259.80">粤北</text>
<text font-size="32" font-weight="500" x="42.20" y="1309.80">广东</text>
<text font-weight="500" transform="scale(1.1,1)" font-size="32.00" font-weight="400" stroke="#000" stroke-width="0.35" stroke-linejoin="miter" x="164.49 181.29 194.04 210.67 223.52 240.05 252.31 259.48 272.27" y="1309.30 1309.30 1309.30 1309.30 1309.30 1309.30 1309.30 1309.30 1309.30">6<tspan textLength="13.35" lengthAdjust="spacingAndGlyphs">1</tspan>9<tspan textLength="13.35" lengthAdjust="spacingAndGlyphs">1</tspan>3<tspan textLength="13.35" lengthAdjust="spacingAndGlyphs">1</tspan>.<tspan textLength="13.35" lengthAdjust="spacingAndGlyphs">1</tspan>2</text>
<text font-weight="500" transform="scale(1.1,1)" font-size="32.00" font-weight="400" stroke="#000" stroke-width="0.35" stroke-linejoin="miter" x="343.17 360.95 378.77 396.60 413.32 425.04 437.30 444.47 457.18" y="1309.30 1309.30 1309.30 1309.30 1309.30 1309.30 1309.30 1309.30 1309.30">6800<tspan textLength="13.35" lengthAdjust="spacingAndGlyphs">1</tspan><tspan textLength="13.35" lengthAdjust="spacingAndGlyphs">1</tspan>.<tspan textLength="13.35" lengthAdjust="spacingAndGlyphs">1</tspan>8</text>
<text font-weight="500" transform="scale(1.1,1)" font-size="32.00" font-weight="400" stroke="#000" stroke-width="0.35" stroke-linejoin="miter" x="507.97 523.45 541.37 559.06 576.75 594.57 611.82 620.11 637.90" y="1307.25 1309.30 1309.30 1309.30 1309.30 1309.30 1309.30 1309.30 1309.30"><tspan font-size="24.4" stroke-width="0.8">–</tspan>60880.06</text>
<text font-weight="500" transform="scale(1.1,1)" font-size="32.00" font-weight="400" stroke="#000" stroke-width="0.35" stroke-linejoin="miter" x="677.66 693.05 710.30 718.50 735.93 752.79" y="1307.25 1309.30 1309.30 1309.30 1309.30 1309.30"><tspan font-size="24.4" stroke-width="0.8">–</tspan>8.95%</text>
<text font-weight="500" transform="scale(1.1,1)" font-size="32.00" font-weight="400" stroke="#000" stroke-width="0.35" stroke-linejoin="miter" x="839.58" y="1307.25"><tspan font-size="24.4" stroke-width="0.8">–</tspan></text>
<text font-size="31.85" font-weight="500" x="207.85" y="1359.60">数据来源：网络公开资料整理、仅供参考</text>
<text font-size="31.85" font-weight="500"><tspan x="175.04" y="1403.60">引用源于网络</tspan><tspan x="364.80" y="1400.20" font-size="31.85" font-weight="400" stroke="#000" stroke-width="0.6" stroke-linejoin="miter" textLength="11.45" lengthAdjust="spacingAndGlyphs">(</tspan><tspan x="376.65" y="1403.60">整理时间</tspan><tspan x="504.05" y="1403.30" font-size="31.85" font-weight="400" stroke="#000" stroke-width="0.6" stroke-linejoin="miter" textLength="19.13" lengthAdjust="spacingAndGlyphs">2</tspan><tspan x="523.16" y="1403.30" font-size="31.85" font-weight="400" stroke="#000" stroke-width="0.6" stroke-linejoin="miter" textLength="19.13" lengthAdjust="spacingAndGlyphs">0</tspan><tspan x="542.27" y="1403.30" font-size="31.85" font-weight="400" stroke="#000" stroke-width="0.6" stroke-linejoin="miter" textLength="19.13" lengthAdjust="spacingAndGlyphs">2</tspan><tspan x="561.31" y="1403.30" font-size="31.85" font-weight="400" stroke="#000" stroke-width="0.6" stroke-linejoin="miter" textLength="19.13" lengthAdjust="spacingAndGlyphs">6</tspan><tspan x="580.50" y="1403.60">年</tspan><tspan x="612.78" y="1400.20" font-size="31.85" font-weight="400" stroke="#000" stroke-width="0.6" stroke-linejoin="miter" textLength="11.45" lengthAdjust="spacingAndGlyphs">)</tspan><tspan x="622.86" y="1403.60">，具有时效性</tspan></text>
<text font-size="31.85" font-weight="500" x="176.00" y="1447.60">如有错误遗漏，请在评论区留言，十分感谢！</text>
</svg>
</body></html>
